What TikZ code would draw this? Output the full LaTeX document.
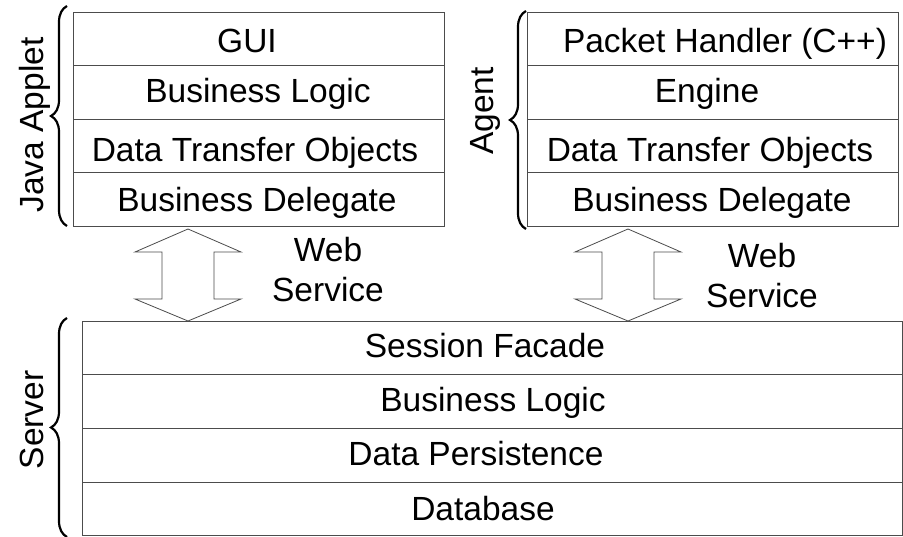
\documentclass[tikz,border=0pt]{standalone}
\usepackage{fontspec}
\setmainfont{Liberation Sans}
\usetikzlibrary{decorations.pathreplacing}
\begin{document}
\begin{tikzpicture}[x=1pt,y=-1pt,
  layer/.style={draw=black!70, line width=1pt, minimum height=53.5pt, inner sep=0pt, anchor=north west},
  txt/.style={font=\fontsize{33.5}{38}\selectfont, anchor=base, inner sep=0pt},
  side/.style={font=\fontsize{33.5}{38}\selectfont, anchor=base, rotate=90, inner sep=0pt},
  bigarrow/.style={draw=black!70, line width=0.8pt, fill=white},
  curly/.style={decorate, decoration={brace, amplitude=16pt}, line width=2.2pt}]
\useasboundingbox (0,0) rectangle (903,537);
% Java applet stack
\node[layer, minimum width=371pt] (jgui) at (73,12) {};
\node[layer, minimum width=371pt] (jbl)  at (73,65.5) {};
\node[layer, minimum width=371pt] (jdto) at (73,119) {};
\node[layer, minimum width=371pt] (jbd)  at (73,172.5) {};
\node[txt] at (247,53) {GUI};
\node[txt] at (258,103) {Business Logic};
\node[txt] at (255,162) {Data Transfer Objects};
\node[txt] at (257,212) {Business Delegate};
% Agent stack
\node[layer, minimum width=371pt] (aph)  at (527,12) {};
\node[layer, minimum width=371pt] (aeng) at (527,65.5) {};
\node[layer, minimum width=371pt] (adto) at (527,119) {};
\node[layer, minimum width=371pt] (abd)  at (527,172.5) {};
\node[txt] at (725,53) {Packet Handler (C++)};
\node[txt] at (707,103) {Engine};
\node[txt] at (710,162) {Data Transfer Objects};
\node[txt] at (712,212) {Business Delegate};
% Server stack
\node[layer, minimum width=820pt] (ssf) at (82,321) {};
\node[layer, minimum width=820pt] (sbl) at (82,374.5) {};
\node[layer, minimum width=820pt] (sdp) at (82,428) {};
\node[layer, minimum width=820pt] (sdb) at (82,481.5) {};
\node[txt] at (485,358) {Session Facade};
\node[txt] at (493,412) {Business Logic};
\node[txt] at (476,465) {Data Persistence};
\node[txt] at (483,520) {Database};
% double arrows
\draw[bigarrow] (188,229) -- (241,252) -- (214,252) -- (214,299) -- (241,299) -- (188,321)
  -- (135,299) -- (162,299) -- (162,252) -- (135,252) -- cycle;
\draw[bigarrow] (628,229) -- (681,252) -- (654,252) -- (654,299) -- (681,299) -- (628,321)
  -- (575,299) -- (602,299) -- (602,252) -- (575,252) -- cycle;
\node[txt] (ws1a) at (328,262) {Web};
\node[txt] (ws1b) at (328,302) {Service};
\node[txt] (ws2a) at (762,268) {Web};
\node[txt] (ws2b) at (762,308) {Service};
% braces
\coordinate (b1s) at (67,226); \coordinate (b1e) at (67,6);
\coordinate (b2s) at (526,229); \coordinate (b2e) at (526,11);
\coordinate (b3s) at (67,537); \coordinate (b3e) at (67,318);
\draw[curly] (b1s) -- (b1e);
\draw[curly] (b2s) -- (b2e);
\draw[curly] (b3s) -- (b3e);
\node[side] (lja) at (43,125) {Java Applet};
\node[side] (lag) at (493,111) {Agent};
\node[side] (lsv) at (43,420) {Server};
\end{tikzpicture}
\end{document}
